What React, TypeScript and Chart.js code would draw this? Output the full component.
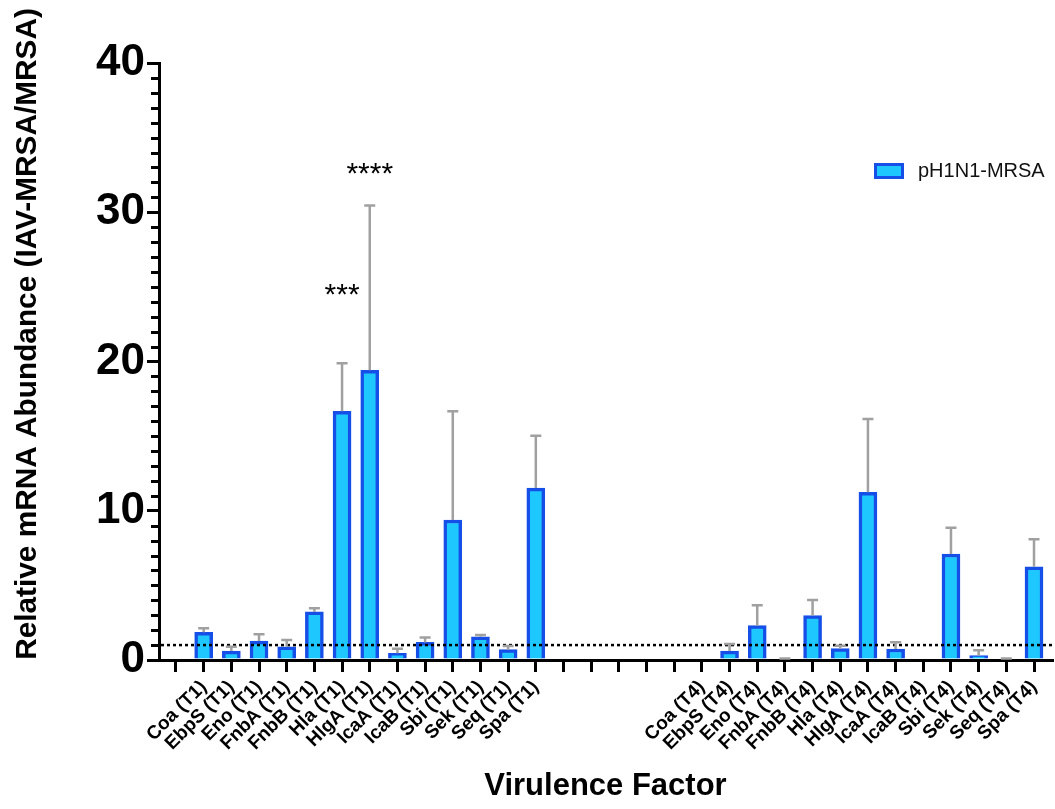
import React, { useEffect, useRef } from 'react';
import { Chart, registerables } from 'chart.js';

Chart.register(...registerables);

// ---- data ----
const genes = ['Coa', 'EbpS', 'Eno', 'FnbA', 'FnbB', 'Hla', 'HlgA', 'IcaA', 'IcaB', 'Sbi', 'Sek', 'Seq', 'Spa'];
const t1Means = [1.86, 0.6, 1.27, 0.89, 3.22, 16.66, 19.41, 0.45, 1.18, 9.38, 1.56, 0.69, 11.52];
const t1Errors = [0.26, 0.29, 0.45, 0.45, 0.24, 3.22, 11.05, 0.31, 0.32, 7.28, 0.12, 0.25, 3.51];
const t4Means: (number | null)[] = [null, 0.6, 2.3, 0, 2.97, 0.76, 11.24, 0.74, null, 7.1, 0.29, 0, 6.25];
const t4Errors: (number | null)[] = [null, 0.47, 1.36, 0, 1.05, 0.2, 4.91, 0.45, null, 1.76, 0.36, 0, 1.84];
const yTickValues = [0, 10, 20, 30, 40];
const referenceLevel = 1;
const seriesLabel = 'pH1N1-MRSA';
const sigMarks = [
  { gene: 'Hla', group: 'T1', text: '***', y: 23.83 },
  { gene: 'HlgA', group: 'T1', text: '****', y: 31.96 },
];
const leadingBlanks = 1;
const gapBlanks = 5;

// ---- derived ----
const blanks = (n: number) => Array.from({ length: n }, () => '');
const categories: string[] = [
  ...blanks(leadingBlanks),
  ...genes.map((g) => `${g} (T1)`),
  ...blanks(gapBlanks),
  ...genes.map((g) => `${g} (T4)`),
];
const nullBlanks = (n: number) => Array.from({ length: n }, () => null as number | null);
const allMeans: (number | null)[] = [...nullBlanks(leadingBlanks), ...t1Means, ...nullBlanks(gapBlanks), ...t4Means];
const allErrors: (number | null)[] = [...nullBlanks(leadingBlanks), ...t1Errors, ...nullBlanks(gapBlanks), ...t4Errors];

const FONT = '"Liberation Sans", Arial, Helvetica, sans-serif';
const FILL = 'rgb(30, 200, 255)';
const EDGE = 'rgb(22, 78, 232)';
const ERR = '#a0a0a0';

const overlayPlugin = {
  id: 'overlay',
  afterDraw(chart: any) {
    const ctx = chart.ctx as CanvasRenderingContext2D;
    const xS = chart.scales.x;
    const yS = chart.scales.y;
    const area = chart.chartArea;
    ctx.save();

    // minor y ticks
    ctx.strokeStyle = '#000';
    ctx.lineWidth = 3;
    for (let v = yS.min; v <= yS.max; v++) {
      if (yTickValues.includes(v)) continue;
      const py = Math.round(yS.getPixelForValue(v)) + 0.5;
      ctx.beginPath();
      ctx.moveTo(area.left - 8, py);
      ctx.lineTo(area.left, py);
      ctx.stroke();
    }

    // dotted reference line
    const ry = yS.getPixelForValue(referenceLevel);
    ctx.setLineDash([3, 3]);
    ctx.lineWidth = 2.5;
    ctx.strokeStyle = '#000';
    ctx.beginPath();
    ctx.moveTo(area.left + 2, ry);
    ctx.lineTo(area.right, ry);
    ctx.stroke();
    ctx.setLineDash([]);

    // error bars (upper)
    ctx.strokeStyle = ERR;
    ctx.lineWidth = 2.5;
    allMeans.forEach((m, i) => {
      const e = allErrors[i];
      if (m === null || e === null) return;
      const px = xS.getPixelForValue(i);
      const y0 = yS.getPixelForValue(m);
      const y1 = yS.getPixelForValue(m + e);
      ctx.beginPath();
      if (e > 0) {
        ctx.moveTo(px, y0);
        ctx.lineTo(px, y1);
      }
      const capY = e > 0 ? y1 : y1 - 1.5;
      ctx.moveTo(px - 5.5, capY);
      ctx.lineTo(px + 5.5, capY);
      ctx.stroke();
    });

    // significance marks
    ctx.fillStyle = '#000';
    ctx.font = `30px ${FONT}`;
    ctx.textAlign = 'center';
    ctx.textBaseline = 'alphabetic';
    sigMarks.forEach((s) => {
      const idx = categories.indexOf(`${s.gene} (${s.group})`);
      ctx.fillText(s.text, xS.getPixelForValue(idx), yS.getPixelForValue(s.y));
    });

    // legend
    ctx.fillStyle = FILL;
    ctx.fillRect(874, 163, 30, 16);
    ctx.strokeStyle = EDGE;
    ctx.lineWidth = 3;
    ctx.strokeRect(875.5, 164.5, 27, 13);
    ctx.fillStyle = '#111';
    ctx.font = `20px ${FONT}`;
    ctx.textAlign = 'left';
    ctx.textBaseline = 'middle';
    ctx.fillText(seriesLabel, 918, 171);

    // axis titles
    ctx.fillStyle = '#000';
    ctx.font = `bold 31px ${FONT}`;
    ctx.textAlign = 'center';
    ctx.textBaseline = 'alphabetic';
    ctx.fillText('Virulence Factor', (area.left + area.right) / 2, 795);
    ctx.save();
    ctx.font = `bold 29.8px ${FONT}`;
    ctx.translate(36, 334);
    ctx.rotate(-Math.PI / 2);
    ctx.fillText('Relative mRNA Abundance (IAV-MRSA/MRSA)', 0, 0);
    ctx.restore();

    ctx.restore();
  },
};

export default function App() {
  const canvasRef = useRef<HTMLCanvasElement | null>(null);

  useEffect(() => {
    document.body.style.margin = '0';
    const canvas = canvasRef.current;
    if (!canvas) return;
    const points = allMeans
      .map((m, i) => (m === null ? null : { x: i, y: m }))
      .filter((p) => p !== null) as { x: number; y: number }[];

    const chart = new Chart(canvas, {
      type: 'bar',
      data: {
        datasets: [
          {
            label: seriesLabel,
            data: points as any,
            backgroundColor: FILL,
            borderColor: EDGE,
            borderWidth: 3.5,
            borderSkipped: 'start',
            barThickness: 18,
          },
        ],
      },
      options: {
        responsive: false,
        animation: false,
        devicePixelRatio: 1,
        layout: { padding: { top: 63, right: 3, left: 0, bottom: 0 } },
        plugins: { legend: { display: false }, tooltip: { enabled: false }, title: { display: false } },
        scales: {
          x: {
            type: 'linear',
            min: -0.614,
            max: 31.65,
            offset: false,
            z: 1,
            afterBuildTicks: (s: any) => {
              s.ticks = categories.map((_, i) => ({ value: i }));
            },
            afterFit: (s: any) => {
              s.height = 149;
            },
            ticks: {
              autoSkip: false,
              minRotation: 45,
              maxRotation: 45,
              padding: 4,
              color: '#000',
              font: { family: FONT, size: 19, weight: 'bold' },
              callback: (v: any) => categories[v as number] ?? '',
            },
            grid: {
              display: true,
              offset: false,
              drawOnChartArea: false,
              drawTicks: true,
              tickLength: 12,
              lineWidth: 3,
              color: '#000',
            },
            border: { display: true, width: 3, color: '#000' },
          },
          y: {
            type: 'linear',
            min: 0,
            max: 40,
            z: 1,
            afterBuildTicks: (s: any) => {
              s.ticks = yTickValues.map((v) => ({ value: v }));
            },
            afterFit: (s: any) => {
              s.width = 159;
            },
            ticks: {
              padding: 2,
              color: '#000',
              font: { family: FONT, size: 44, weight: 'bold' },
            },
            grid: {
              display: true,
              drawOnChartArea: false,
              drawTicks: true,
              tickLength: 12,
              lineWidth: 3,
              color: '#000',
            },
            border: { display: true, width: 3, color: '#000' },
          },
        },
      },
      plugins: [overlayPlugin],
    });
    return () => chart.destroy();
  }, []);

  return (
    <div style={{ position: 'fixed', left: 0, top: 0, width: 1055, height: 809, background: '#fff' }}>
      <canvas ref={canvasRef} width={1055} height={809} style={{ display: 'block', width: 1055, height: 809 }} />
    </div>
  );
}
